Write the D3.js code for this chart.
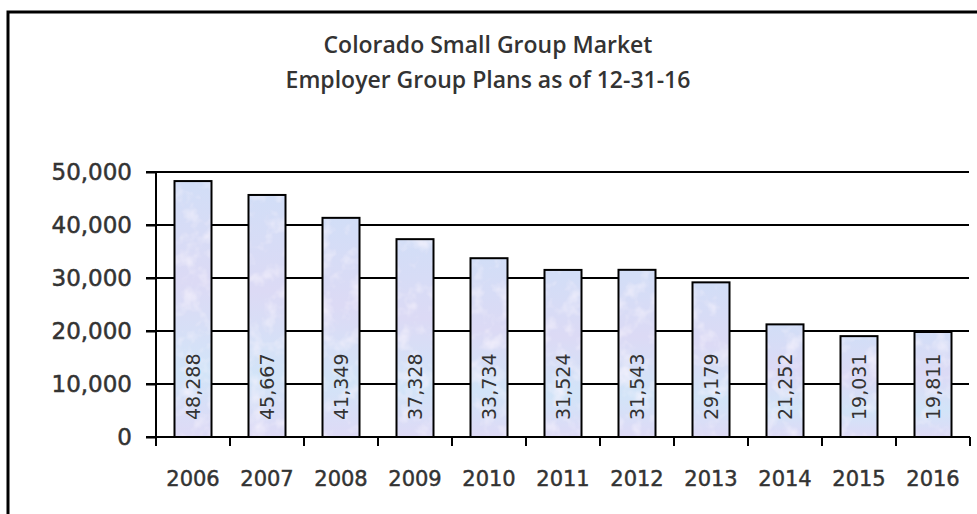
<!DOCTYPE html>
<html>
<head>
<meta charset="utf-8">
<script src="https://cdn.jsdelivr.net/npm/d3@7"></script>
<style>
  body { margin: 0; background: #fff; }
  svg { display: block; }
</style>
</head>
<body>
<div id="chart"></div>
<script>
// chart values
const years = ['2006', '2007', '2008', '2009', '2010', '2011', '2012', '2013', '2014', '2015', '2016'];
const plans = [48288, 45667, 41349, 37328, 33734, 31524, 31543, 29179, 21252, 19031, 19811];
const yTicks = [0, 10000, 20000, 30000, 40000, 50000];
const titleLines = ['Colorado Small Group Market', 'Employer Group Plans as of 12-31-16'];

const width = 977, height = 514;
const plot = {left: 156, right: 970, top: 172, bottom: 437};

const svg = d3.select('#chart').append('svg')
    .attr('width', width)
    .attr('height', height);

const defs = svg.append('defs');
const grad = defs.append('linearGradient')
    .attr('id', 'barFill')
    .attr('x1', 0).attr('y1', 0).attr('x2', 0).attr('y2', 1);
grad.append('stop').attr('offset', '0%').attr('stop-color', '#d2def7');
grad.append('stop').attr('offset', '40%').attr('stop-color', '#dcdaf5');
grad.append('stop').attr('offset', '75%').attr('stop-color', '#d2e4f8');
grad.append('stop').attr('offset', '100%').attr('stop-color', '#dedaf6');

// mottled "paper" texture like the original fill
const tex = defs.append('filter').attr('id', 'mottle')
    .attr('x', 0).attr('y', 0).attr('width', 1).attr('height', 1);
tex.append('feTurbulence')
    .attr('type', 'fractalNoise')
    .attr('baseFrequency', 0.06)
    .attr('numOctaves', 3)
    .attr('seed', 4)
    .attr('result', 'noise');
tex.append('feColorMatrix')
    .attr('in', 'noise')
    .attr('type', 'matrix')
    .attr('values', '0 0 0 0 0.93  0 0 0 0 0.90  0 0 0 0 0.98  1.6 0 0 0 -0.75')
    .attr('result', 'spots');
tex.append('feComposite')
    .attr('in', 'spots').attr('in2', 'SourceGraphic')
    .attr('operator', 'in')
    .attr('result', 'clipped');
const merge = tex.append('feMerge');
merge.append('feMergeNode').attr('in', 'SourceGraphic');
merge.append('feMergeNode').attr('in', 'clipped');

// outer frame, runs off the right and bottom edges
svg.append('rect')
    .attr('x', 8).attr('y', 12)
    .attr('width', 1000).attr('height', 600)
    .style('fill', 'none')
    .style('stroke', 'black')
    .style('stroke-width', 3);

svg.append('g')
    .selectAll('text')
    .data(titleLines)
    .enter().append('text')
    .attr('x', 488)
    .attr('y', (d, i) => 53 + i * 35)
    .attr('text-anchor', 'middle')
    .style('font-family', '"Open Sans", sans-serif')
    .style('font-weight', 600)
    .style('font-size', '23px')
    .style('fill', '#333')
    .text(d => d);

const x = d3.scaleBand()
    .domain(years)
    .range([plot.left, plot.right])
    .paddingInner(0.5)
    .paddingOuter(0.25);

const y = d3.scaleLinear()
    .domain([0, 50000])
    .range([plot.bottom, plot.top]);

// gridlines
svg.append('g')
    .selectAll('line')
    .data(yTicks.slice(1))
    .enter().append('line')
    .attr('x1', plot.left - 10)
    .attr('x2', plot.right - 1)
    .attr('y1', d => y(d))
    .attr('y2', d => y(d))
    .style('stroke', 'black')
    .style('stroke-width', 2);

// y axis
const yAxis = svg.append('g')
    .attr('transform', `translate(${plot.left},0)`)
    .call(d3.axisLeft(y).tickValues(yTicks).tickSize(10).tickPadding(14).tickFormat(d3.format(',')));
yAxis.selectAll('line, path').style('stroke', 'black').style('stroke-width', 2);
yAxis.select('.domain').attr('d', `M0,${plot.top}V${plot.bottom}`);
yAxis.selectAll('text')
    .style('font-family', '"DejaVu Sans", sans-serif')
    .style('font-size', '23px')
    .style('fill', '#333')
    .style('stroke', '#333')
    .style('stroke-width', 0.5);

// x axis with ticks between categories
const xAxis = svg.append('g');
xAxis.append('line')
    .attr('x1', plot.left - 10).attr('x2', plot.right)
    .attr('y1', plot.bottom).attr('y2', plot.bottom)
    .style('stroke', 'black').style('stroke-width', 2);
xAxis.selectAll('.xtick')
    .data(years.concat(['end']))
    .enter().append('line')
    .attr('class', 'xtick')
    .attr('x1', (d, i) => plot.left + i * x.step())
    .attr('x2', (d, i) => plot.left + i * x.step())
    .attr('y1', plot.bottom)
    .attr('y2', plot.bottom + 9)
    .style('stroke', 'black').style('stroke-width', 2);
xAxis.selectAll('.xlabel')
    .data(years)
    .enter().append('text')
    .attr('class', 'xlabel')
    .attr('x', d => x(d) + x.bandwidth() / 2)
    .attr('y', 486)
    .attr('text-anchor', 'middle')
    .style('font-family', '"DejaVu Sans", sans-serif')
    .style('font-size', '21px')
    .style('fill', '#333')
    .style('stroke', '#333')
    .style('stroke-width', 0.45)
    .text(d => d);

// bars: textured fill, then outline on top
const bars = svg.append('g');
bars.selectAll('.barfill')
    .data(plans)
    .enter().append('rect')
    .attr('class', 'barfill')
    .attr('x', (d, i) => x(years[i]))
    .attr('y', d => y(d))
    .attr('width', x.bandwidth())
    .attr('height', d => y(0) - y(d))
    .attr('filter', 'url(#mottle)')
    .style('fill', 'url(#barFill)');
bars.selectAll('.barline')
    .data(plans)
    .enter().append('rect')
    .attr('class', 'barline')
    .attr('x', (d, i) => x(years[i]))
    .attr('y', d => y(d))
    .attr('width', x.bandwidth())
    .attr('height', d => y(0) - y(d))
    .style('fill', 'none')
    .style('stroke', 'black')
    .style('stroke-width', 2);

// value labels, rotated inside the bars
svg.append('g')
    .selectAll('text')
    .data(plans)
    .enter().append('text')
    .attr('transform', (d, i) => `translate(${x(years[i]) + x.bandwidth() / 2 + 7},${plot.bottom - 17}) rotate(-90)`)
    .style('font-family', '"DejaVu Sans", sans-serif')
    .style('font-size', '19px')
    .style('fill', '#333')
    .text(d => d3.format(',')(d));
</script>
</body>
</html>
